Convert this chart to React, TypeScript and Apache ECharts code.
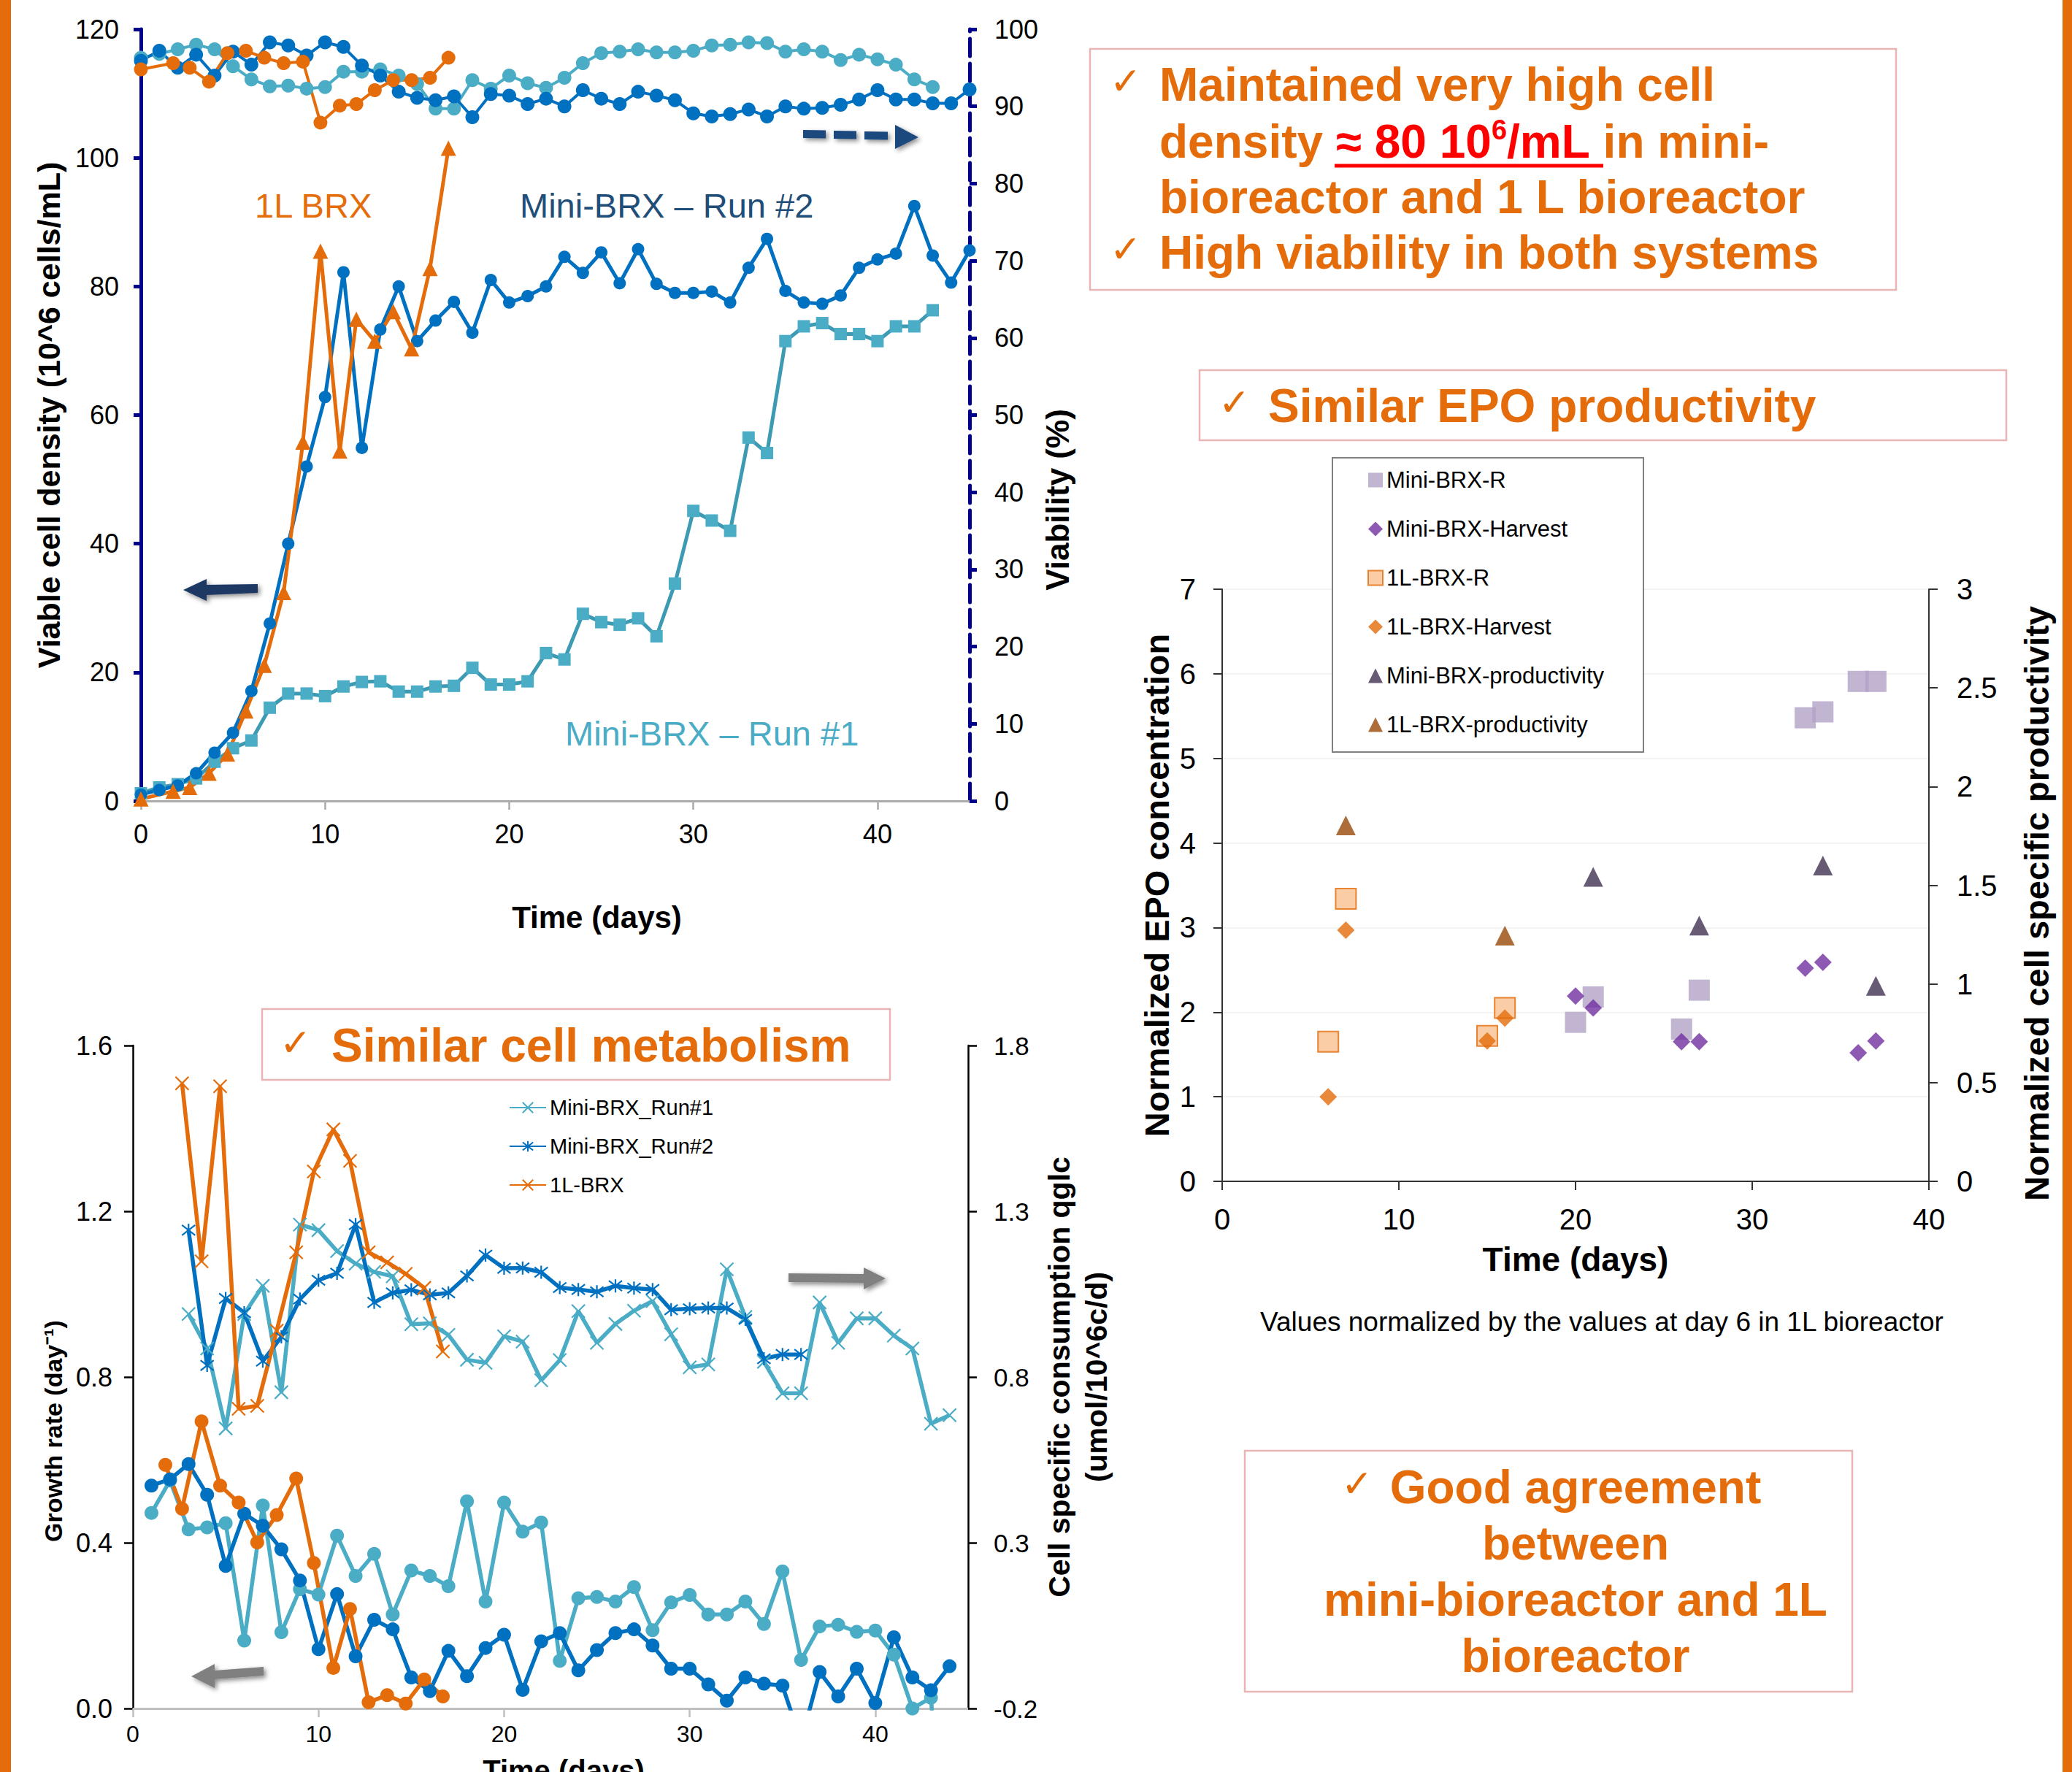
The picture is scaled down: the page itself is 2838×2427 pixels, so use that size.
import React, { useEffect, useRef } from "react";
import * as echarts from "echarts";

const FONT = "'Liberation Sans', Arial, Helvetica, sans-serif";
const CHECK_FONT = "'DejaVu Sans', 'Noto Sans', sans-serif";
const ORANGE = "#E46C0A";
const LIGHT_BLUE = "#4BACC6";
const DARK_BLUE = "#0070C0";
const NAVY = "#00008B";
const BOX_BORDER = "#E8B4B4";

// ---------- Chart 1: viable cell density & viability ----------
const daysRun1 = [0, 1, 2, 3, 4, 5, 6, 7, 8, 9, 10, 11, 12, 13, 14, 15, 16, 17, 18, 19, 20, 21, 22, 23, 24, 25, 26, 27, 28, 29, 30, 31, 32, 33, 34, 35, 36, 37, 38, 39, 40, 41, 42, 43];
const daysRun2 = [0, 1, 2, 3, 4, 5, 6, 7, 8, 9, 10, 11, 12, 13, 14, 15, 16, 17, 18, 19, 20, 21, 22, 23, 24, 25, 26, 27, 28, 29, 30, 31, 32, 33, 34, 35, 36, 37, 38, 39, 40, 41, 42, 43, 44, 45];
const days1L = [0, 1.75, 2.65, 3.7, 4.7, 5.7, 6.7, 7.75, 8.8, 9.75, 10.8, 11.7, 12.7, 13.7, 14.7, 15.7, 16.7];

const vcdRun1 = [1.2, 2.1, 2.6, 3.5, 6.1, 8.2, 9.4, 14.5, 16.7, 16.7, 16.3, 17.8, 18.5, 18.6, 17.0, 17.0, 17.8, 17.9, 20.7, 18.1, 18.1, 18.6, 23.0, 22.0, 29.1, 27.8, 27.4, 28.4, 25.6, 33.8, 45.1, 43.6, 42.0, 56.5, 54.1, 71.5, 73.8, 74.3, 72.6, 72.6, 71.5, 73.8, 73.8, 76.3];
const vcdRun2 = [1.0, 1.7, 2.4, 4.3, 7.5, 10.6, 17.1, 27.6, 40.0, 52.0, 62.8, 82.2, 54.9, 73.3, 80.0, 71.5, 74.7, 77.6, 72.8, 81.0, 77.5, 78.5, 80.0, 84.6, 82.1, 85.3, 80.5, 85.8, 80.4, 79.0, 79.0, 79.2, 77.5, 82.9, 87.4, 79.3, 77.5, 77.3, 78.6, 82.9, 84.2, 85.1, 92.5, 84.8, 80.6, 85.6];
const vcd1L = [0.3, 1.5, 2.1, 4.3, 7.3, 14.0, 21.1, 32.4, 55.8, 85.5, 54.4, 74.9, 71.5, 76.1, 70.3, 82.8, 101.5];

const viaRun1 = [96.3, 96.8, 97.4, 98.0, 97.4, 95.2, 93.5, 92.6, 92.7, 92.3, 92.5, 94.5, 94.5, 94.8, 94.0, 92.9, 89.7, 89.7, 93.4, 92.3, 94.0, 93.0, 92.4, 93.7, 95.6, 96.9, 97.1, 97.4, 97.0, 97.0, 97.2, 97.9, 98.0, 98.3, 98.2, 97.1, 97.4, 97.1, 96.0, 96.7, 96.1, 95.4, 93.5, 92.5];
const viaRun2 = [95.9, 97.2, 95.0, 96.7, 94.0, 97.1, 95.4, 98.3, 97.9, 96.6, 98.3, 97.7, 95.3, 94.0, 91.9, 91.1, 90.8, 91.3, 88.6, 91.6, 91.4, 90.3, 91.0, 90.0, 92.1, 91.0, 90.3, 91.9, 91.4, 90.8, 89.1, 88.7, 89.0, 89.6, 88.7, 90.0, 89.7, 89.8, 90.2, 90.9, 92.1, 90.9, 90.9, 90.4, 90.4, 92.2];
const via1L = [94.8, 95.6, 95.0, 93.2, 96.9, 97.2, 96.3, 95.6, 95.8, 87.9, 90.1, 90.3, 92.1, 93.4, 93.4, 93.7, 96.3];

// ---------- Chart 2: growth rate & qglc ----------
const growthDaysMini = [1, 2, 3, 4, 5, 6, 7, 8, 9, 10, 11, 12, 13, 14, 15, 16, 17, 18, 19, 20, 21, 22, 23, 24, 25, 26, 27, 28, 29, 30, 31, 32, 33, 34, 35, 36, 37, 38, 39, 40, 41, 42, 43, 44];
const growthRun1 = [0.472, 0.55, 0.432, 0.437, 0.447, 0.164, 0.49, 0.184, 0.288, 0.275, 0.417, 0.32, 0.373, 0.227, 0.333, 0.32, 0.295, 0.5, 0.258, 0.497, 0.427, 0.449, 0.115, 0.266, 0.269, 0.258, 0.293, 0.189, 0.256, 0.274, 0.227, 0.227, 0.258, 0.204, 0.331, 0.117, 0.198, 0.202, 0.185, 0.188, 0.13, 0.0, 0.026, -0.6];
const growthRun2 = [0.538, 0.553, 0.59, 0.516, 0.344, 0.47, 0.441, 0.384, 0.309, 0.143, 0.276, 0.126, 0.214, 0.191, 0.075, 0.042, 0.139, 0.078, 0.146, 0.178, 0.045, 0.162, 0.182, 0.092, 0.141, 0.182, 0.191, 0.152, 0.096, 0.096, 0.058, 0.019, 0.075, 0.06, 0.055, -0.08, 0.088, 0.029, 0.096, 0.013, 0.172, 0.075, 0.044, 0.102];
const growthDays1L = [1.75, 2.65, 3.7, 4.7, 5.7, 6.7, 7.75, 8.8, 9.75, 10.8, 11.7, 12.7, 13.7, 14.7, 15.7, 16.7];
const growth1L = [0.588, 0.482, 0.693, 0.538, 0.497, 0.401, 0.467, 0.555, 0.351, 0.098, 0.24, 0.015, 0.032, 0.012, 0.07, 0.029];

const qglcDaysRun1 = [3, 4, 5, 6, 7, 8, 9, 10, 11, 12, 13, 14, 15, 16, 17, 18, 19, 20, 21, 22, 23, 24, 25, 26, 27, 28, 29, 30, 31, 32, 33, 34, 35, 36, 37, 38, 39, 40, 41, 42, 43, 44];
const qglcRun1 = [0.99, 0.886, 0.645, 0.99, 1.075, 0.754, 1.26, 1.243, 1.18, 1.142, 1.117, 1.104, 0.959, 0.962, 0.927, 0.852, 0.843, 0.923, 0.907, 0.79, 0.851, 0.999, 0.903, 0.96, 1.0, 1.029, 0.929, 0.829, 0.838, 1.125, 0.981, 0.846, 0.751, 0.751, 1.025, 0.903, 0.977, 0.977, 0.925, 0.886, 0.659, 0.685];
const qglcDaysRun2 = [3, 4, 5, 6, 7, 8, 9, 10, 11, 12, 13, 14, 15, 16, 17, 18, 19, 20, 21, 22, 23, 24, 25, 26, 27, 28, 29, 30, 31, 32, 33, 34, 35, 36];
const qglcRun2 = [1.243, 0.835, 1.037, 0.994, 0.848, 0.921, 1.035, 1.092, 1.113, 1.26, 1.025, 1.054, 1.063, 1.048, 1.054, 1.105, 1.168, 1.128, 1.129, 1.116, 1.07, 1.064, 1.057, 1.075, 1.068, 1.064, 1.003, 1.006, 1.008, 1.008, 0.974, 0.855, 0.868, 0.868];
const qglcDays1L = [2.65, 3.7, 4.7, 5.7, 6.7, 7.75, 8.8, 9.75, 10.8, 11.7, 12.7, 13.7, 14.7, 15.7, 16.7];
const qglc1L = [1.686, 1.149, 1.677, 0.704, 0.713, 0.94, 1.176, 1.42, 1.547, 1.452, 1.176, 1.146, 1.111, 1.069, 0.877];

// ---------- Chart 3: EPO ----------
const epoMiniDays = [20, 21, 26, 27, 33, 34, 36, 37];
const epoMiniR = [1.88, 2.18, 1.8, 2.26, 5.48, 5.55, 5.91, 5.91];
const epoMiniHarvest = [2.19, 2.05, 1.65, 1.65, 2.52, 2.59, 1.52, 1.66];
const epo1LDays = [6, 7, 15, 16];
const epo1LR = [1.65, 3.34, 1.72, 2.05];
const epo1LHarvest = [1.0, 2.97, 1.66, 1.93];
const prodMiniDays = [21, 27, 34, 37];
const prodMini = [1.543, 1.296, 1.6, 0.99];
const prod1LDays = [7, 16];
const prod1L = [1.803, 1.245];

const xTicks = [0, 10, 20, 30, 40];

const pairs = (xs: number[], ys: number[]) => xs.map((x, i) => [x, ys[i]]);

const CROSS = "path://M0,0L10,10M10,0L0,10";
const STAR = "path://M0,0L10,10M10,0L0,10M5,-1.5L5,11.5";

function buildOption(): any {
  const lineSeries = (name: string, xi: number, yi: number, xs: number[], ys: number[], color: string, lineColor: string, symbol: string, size: number, width: number) => ({
    name,
    type: "line",
    xAxisIndex: xi,
    yAxisIndex: yi,
    data: pairs(xs, ys),
    symbol,
    symbolSize: size,
    showAllSymbol: true,
    clip: true,
    lineStyle: { color: lineColor, width },
    itemStyle: { color },
    emphasis: { disabled: true },
  });

  const crossSeries = (name: string, xs: number[], ys: number[], color: string, symbol: string) => ({
    name,
    type: "line",
    xAxisIndex: 1,
    yAxisIndex: 3,
    data: pairs(xs, ys),
    symbol,
    symbolSize: [18, 18],
    showAllSymbol: true,
    clip: true,
    lineStyle: { color, width: 5.5 },
    itemStyle: { color, borderColor: color, borderWidth: 2.2 },
    emphasis: { disabled: true },
  });

  const scatter = (name: string, yi: number, xs: number[], ys: number[], symbol: string, size: number, itemStyle: any) => ({
    name,
    type: "scatter",
    xAxisIndex: 2,
    yAxisIndex: yi,
    data: pairs(xs, ys),
    symbol,
    symbolSize: size,
    itemStyle,
    emphasis: { disabled: true },
  });

  const valueX = (gridIndex: number, lineColor: string, fontSize: number, margin: number, nameGap: number, nameSize: number, namePadding: number[]) => ({
    type: "value",
    gridIndex,
    min: 0,
    max: 45,
    interval: 10,
    name: "Time (days)",
    nameLocation: "middle",
    nameGap,
    nameTextStyle: { fontSize: nameSize, fontWeight: "bold", color: "#000", fontFamily: FONT, padding: namePadding },
    axisLine: { show: true, onZero: false, lineStyle: { color: lineColor, width: 3 } },
    axisTick: { show: true, inside: false, length: 12, customValues: xTicks, lineStyle: { color: lineColor, width: 2.5 } },
    axisLabel: { customValues: xTicks, formatter: (v: number) => (v % 10 === 0 ? String(v) : ""), fontSize, color: "#000", margin, fontFamily: FONT },
    splitLine: { show: false },
  });

  const graphics: any[] = [];
  const txt = (x: number, y: number, text: string, o: any = {}) =>
    graphics.push({
      type: "text",
      x,
      y,
      z: 60,
      style: {
        text,
        fill: o.fill || ORANGE,
        fontSize: o.fontSize || 64,
        fontWeight: o.fontWeight || "bold",
        fontFamily: o.fontFamily || FONT,
        align: o.align || "left",
        verticalAlign: "middle",
        rich: o.rich,
      },
    });
  const check = (x: number, y: number) => txt(x, y, "✓", { fontSize: 52, fontWeight: "normal", fontFamily: CHECK_FONT });
  const box = (x: number, y: number, w: number, h: number) =>
    graphics.push({ type: "rect", z: 55, shape: { x, y, width: w, height: h }, style: { fill: "#fff", stroke: BOX_BORDER, lineWidth: 2.5 } });
  const shadow = { shadowBlur: 6, shadowColor: "rgba(0,0,0,0.45)", shadowOffsetX: 3, shadowOffsetY: 3 };
  const poly = (points: number[][], fill: string) =>
    graphics.push({ type: "polygon", z: 60, shape: { points }, style: { fill, ...shadow } });

  // orange poster edges
  graphics.push({ type: "rect", z: 1, shape: { x: 0, y: 0, width: 15, height: 2427 }, style: { fill: ORANGE } });
  graphics.push({ type: "rect", z: 1, shape: { x: 2825, y: 0, width: 13, height: 2427 }, style: { fill: ORANGE } });

  // Box 1
  box(1493, 67, 1104, 330);
  check(1520, 111);
  txt(1588, 116, "Maintained very high cell");
  txt(1588, 194, "{o|density }{r|≈ 80 10}{s|6}{r|/mL }{o|in mini-}", {
    rich: {
      o: { fill: ORANGE, fontSize: 64, fontWeight: "bold", fontFamily: FONT, lineHeight: 70 },
      r: { fill: "#FF0000", fontSize: 64, fontWeight: "bold", fontFamily: FONT, lineHeight: 70 },
      s: { fill: "#FF0000", fontSize: 38, fontWeight: "bold", fontFamily: FONT, lineHeight: 70, verticalAlign: "top" },
    },
  });
  graphics.push({ type: "line", z: 61, shape: { x1: 1828, y1: 227, x2: 2196, y2: 227 }, style: { stroke: "#FF0000", lineWidth: 5 } });
  txt(1588, 270, "bioreactor and 1 L bioreactor");
  check(1520, 341);
  txt(1588, 346, "High viability in both systems");

  // Box EPO
  box(1643, 507, 1105, 96);
  check(1669, 551);
  txt(1737, 556, "Similar EPO productivity");

  // Box metabolism
  box(359, 1382, 860, 97);
  check(383, 1428);
  txt(454, 1432, "Similar cell metabolism");

  // Box agreement
  box(1705, 1987, 832, 330);
  check(1837, 2032);
  txt(2158, 2037, "Good agreement", { align: "center" });
  txt(2158, 2114, "between", { align: "center" });
  txt(2158, 2191, "mini-bioreactor and 1L", { align: "center" });
  txt(2158, 2268, "bioreactor", { align: "center" });

  // caption
  txt(2194, 1810, "Values normalized by the values at day 6 in 1L bioreactor", { fill: "#000", fontSize: 37, fontWeight: "normal", align: "center" });

  // chart 1 annotations
  txt(349, 281, "1L BRX", { fontSize: 47, fontWeight: "normal" });
  txt(712, 281, "Mini-BRX – Run #2", { fontSize: 47, fontWeight: "normal", fill: "#1F4E79" });
  txt(774, 1004, "Mini-BRX – Run #1", { fontSize: 47, fontWeight: "normal", fill: LIGHT_BLUE });

  // arrows
  poly([[251, 808], [283, 793], [283, 801], [353, 800], [353, 812], [283, 815], [283, 823]], "#1F3864");
  poly([[1100, 178], [1131, 178.5], [1131, 189.5], [1100, 189]], "#1F497D");
  poly([[1142, 179], [1173, 179.5], [1173, 190.5], [1142, 190]], "#1F497D");
  poly([[1184, 180], [1216, 180.5], [1216, 191.5], [1184, 191]], "#1F497D");
  poly([[1226, 171], [1258, 188], [1226, 204]], "#1F497D");
  poly([[1080, 1744], [1183, 1745], [1183, 1736], [1213, 1751], [1183, 1766], [1183, 1757], [1080, 1756]], "#808080");
  poly([[262, 2296], [294, 2279], [294, 2288], [361, 2283], [361, 2295], [294, 2300], [294, 2312]], "#808080");

  return {
    animation: false,
    backgroundColor: "#fff",
    textStyle: { fontFamily: FONT },
    graphic: { elements: graphics },
    legend: [
      {
        data: ["Mini-BRX_Run#1", "Mini-BRX_Run#2", "1L-BRX"],
        orient: "vertical",
        left: 697,
        top: 1502,
        padding: 0,
        itemWidth: 50,
        itemHeight: 18,
        itemGap: 23,
        selectedMode: false,
        textStyle: { fontSize: 29, color: "#000", lineHeight: 30, fontFamily: FONT },
      },
      {
        data: ["Mini-BRX-R", "Mini-BRX-Harvest", "1L-BRX-R", "1L-BRX-Harvest", "Mini-BRX-productivity", "1L-BRX-productivity"],
        orient: "vertical",
        left: 1825,
        top: 627,
        padding: [15, 54, 22, 48],
        itemWidth: 20,
        itemHeight: 20,
        itemGap: 36,
        selectedMode: false,
        borderColor: "#808080",
        borderWidth: 2,
        backgroundColor: "#fff",
        textStyle: { fontSize: 31, color: "#000", lineHeight: 30, fontFamily: FONT },
      },
    ],
    grid: [
      { left: 193, top: 40, width: 1135, height: 1057, outerBoundsMode: "none", containLabel: false },
      { left: 182, top: 1432, width: 1144, height: 908, outerBoundsMode: "none", containLabel: false },
      { left: 1674, top: 807, width: 968, height: 811, outerBoundsMode: "none", containLabel: false },
    ],
    xAxis: [
      valueX(0, "#ABABAB", 36, 27, 138, 42, [0, 0, 0, 114]),
      valueX(1, "#BFBFBF", 32, 19, 65, 40, [0, 0, 0, 36]),
      {
        type: "value",
        gridIndex: 2,
        min: 0,
        max: 40,
        interval: 10,
        name: "Time (days)",
        nameLocation: "middle",
        nameGap: 84,
        nameTextStyle: { fontSize: 46, fontWeight: "bold", color: "#000", fontFamily: FONT },
        axisLine: { show: true, onZero: false, lineStyle: { color: "#333", width: 2 } },
        axisTick: { show: true, length: 12, lineStyle: { color: "#333", width: 2 } },
        axisLabel: { fontSize: 40, color: "#000", margin: 32, fontFamily: FONT },
        splitLine: { show: false },
      },
    ],
    yAxis: [
      {
        type: "value",
        gridIndex: 0,
        position: "left",
        min: 0,
        max: 120,
        interval: 20,
        name: "Viable cell density (10^6 cells/mL)",
        nameLocation: "middle",
        nameRotate: 90,
        nameGap: 105,
        nameTextStyle: { fontSize: 43, fontWeight: "bold", color: "#000", fontFamily: FONT },
        axisLine: { show: true, lineStyle: { color: NAVY, width: 5 } },
        axisTick: { show: true, length: 10, lineStyle: { color: NAVY, width: 5 } },
        axisLabel: { fontSize: 36, color: "#000", margin: 30, fontFamily: FONT },
        splitLine: { show: false },
      },
      {
        type: "value",
        gridIndex: 0,
        position: "right",
        min: 0,
        max: 100,
        interval: 10,
        name: "Viability (%)",
        nameLocation: "middle",
        nameRotate: 90,
        nameGap: 98,
        nameTextStyle: { fontSize: 44, fontWeight: "bold", color: "#000", fontFamily: FONT, padding: [0, 232, 0, 0] },
        axisLine: { show: true, lineStyle: { color: NAVY, width: 5, type: [24, 10] } },
        axisTick: { show: true, length: 10, lineStyle: { color: NAVY, width: 5 } },
        axisLabel: { fontSize: 36, color: "#000", margin: 34, fontFamily: FONT },
        splitLine: { show: false },
      },
      {
        type: "value",
        gridIndex: 1,
        position: "left",
        min: 0,
        max: 1.6,
        interval: 0.4,
        name: "Growth rate (day⁻¹)",
        nameLocation: "middle",
        nameRotate: 90,
        nameGap: 92,
        nameTextStyle: { fontSize: 34, fontWeight: "bold", color: "#000", fontFamily: FONT, padding: [0, 148, 0, 0] },
        axisLine: { show: true, lineStyle: { color: "#000", width: 2.5 } },
        axisTick: { show: true, length: 12, lineStyle: { color: "#000", width: 2.5 } },
        axisLabel: { fontSize: 36, color: "#000", margin: 28, fontFamily: FONT, formatter: (v: number) => v.toFixed(1) },
        splitLine: { show: false },
      },
      {
        type: "value",
        gridIndex: 1,
        position: "right",
        min: -0.2,
        max: 1.8,
        interval: 0.5,
        name: "Cell specific consumption qglc\n(umol/10^6c/d)",
        nameLocation: "middle",
        nameRotate: 90,
        nameGap: 62,
        nameTextStyle: { fontSize: 41, fontWeight: "bold", color: "#000", lineHeight: 51, align: "center", fontFamily: FONT },
        axisLine: { show: true, lineStyle: { color: "#000", width: 2.5 } },
        axisTick: { show: true, length: 12, lineStyle: { color: "#000", width: 2.5 } },
        axisLabel: { fontSize: 35, color: "#000", margin: 35, fontFamily: FONT, formatter: (v: number) => v.toFixed(1) },
        splitLine: { show: false },
      },
      {
        type: "value",
        gridIndex: 2,
        position: "left",
        min: 0,
        max: 7,
        interval: 1,
        name: "Normalized EPO concentration",
        nameLocation: "middle",
        nameRotate: 90,
        nameGap: 66,
        nameTextStyle: { fontSize: 47, fontWeight: "bold", color: "#000", fontFamily: FONT },
        axisLine: { show: true, lineStyle: { color: "#333", width: 2 } },
        axisTick: { show: true, length: 12, lineStyle: { color: "#333", width: 2 } },
        axisLabel: { fontSize: 40, color: "#000", margin: 36, fontFamily: FONT },
        splitLine: { show: true, lineStyle: { color: "#EFEFEF", width: 1.5 } },
      },
      {
        type: "value",
        gridIndex: 2,
        position: "right",
        min: 0,
        max: 3,
        interval: 0.5,
        name: "Normalized cell specific productivity",
        nameLocation: "middle",
        nameRotate: 90,
        nameGap: 124,
        nameTextStyle: { fontSize: 47, fontWeight: "bold", color: "#000", fontFamily: FONT, padding: [0, 50, 0, 0] },
        axisLine: { show: true, lineStyle: { color: "#333", width: 2 } },
        axisTick: { show: true, length: 12, lineStyle: { color: "#333", width: 2 } },
        axisLabel: { fontSize: 40, color: "#000", margin: 38, fontFamily: FONT },
        splitLine: { show: false },
      },
    ],
    series: [
      // chart 1 - VCD
      lineSeries("Mini-BRX – Run #1 VCD", 0, 0, daysRun1, vcdRun1, LIGHT_BLUE, "#3D9AB3", "rect", 17, 5),
      lineSeries("Mini-BRX – Run #2 VCD", 0, 0, daysRun2, vcdRun2, DARK_BLUE, DARK_BLUE, "circle", 17, 5),
      lineSeries("1L BRX VCD", 0, 0, days1L, vcd1L, ORANGE, ORANGE, "triangle", 21, 5),
      // chart 1 - viability
      lineSeries("Mini-BRX – Run #1 viability", 0, 1, daysRun1, viaRun1, LIGHT_BLUE, LIGHT_BLUE, "circle", 19, 4),
      lineSeries("Mini-BRX – Run #2 viability", 0, 1, daysRun2, viaRun2, DARK_BLUE, DARK_BLUE, "circle", 19, 4),
      lineSeries("1L BRX viability", 0, 1, days1L, via1L, ORANGE, ORANGE, "circle", 19, 4),
      // chart 2 - growth rate
      lineSeries("Mini-BRX_Run#1 growth", 1, 2, growthDaysMini, growthRun1, LIGHT_BLUE, LIGHT_BLUE, "circle", 19, 5.5),
      lineSeries("Mini-BRX_Run#2 growth", 1, 2, growthDaysMini, growthRun2, DARK_BLUE, DARK_BLUE, "circle", 19, 5.5),
      lineSeries("1L-BRX growth", 1, 2, growthDays1L, growth1L, ORANGE, ORANGE, "circle", 19, 5.5),
      // chart 2 - qglc
      crossSeries("Mini-BRX_Run#1", qglcDaysRun1, qglcRun1, LIGHT_BLUE, CROSS),
      crossSeries("Mini-BRX_Run#2", qglcDaysRun2, qglcRun2, DARK_BLUE, STAR),
      crossSeries("1L-BRX", qglcDays1L, qglc1L, ORANGE, CROSS),
      // chart 3
      scatter("Mini-BRX-R", 4, epoMiniDays, epoMiniR, "rect", 29, { color: "#B3A2C7" }),
      scatter("Mini-BRX-Harvest", 4, epoMiniDays, epoMiniHarvest, "diamond", 24, { color: "#7030A0" }),
      scatter("1L-BRX-R", 4, epo1LDays, epo1LR, "rect", 28, { color: "#FAC090", borderColor: ORANGE, borderWidth: 2 }),
      scatter("1L-BRX-Harvest", 4, epo1LDays, epo1LHarvest, "diamond", 24, { color: ORANGE }),
      scatter("Mini-BRX-productivity", 5, prodMiniDays, prodMini, "triangle", 27, { color: "#403152" }),
      scatter("1L-BRX-productivity", 5, prod1LDays, prod1L, "triangle", 27, { color: "#984807" }),
    ],
  };
}

export default function App() {
  const ref = useRef<HTMLDivElement>(null);
  useEffect(() => {
    if (!ref.current) return;
    const chart = echarts.init(ref.current, null, { renderer: "svg" });
    chart.setOption(buildOption());
    return () => chart.dispose();
  }, []);
  return (
    <div
      ref={ref}
      style={{ position: "absolute", left: 0, top: 0, width: 2838, height: 2427, background: "#fff" }}
    />
  );
}
